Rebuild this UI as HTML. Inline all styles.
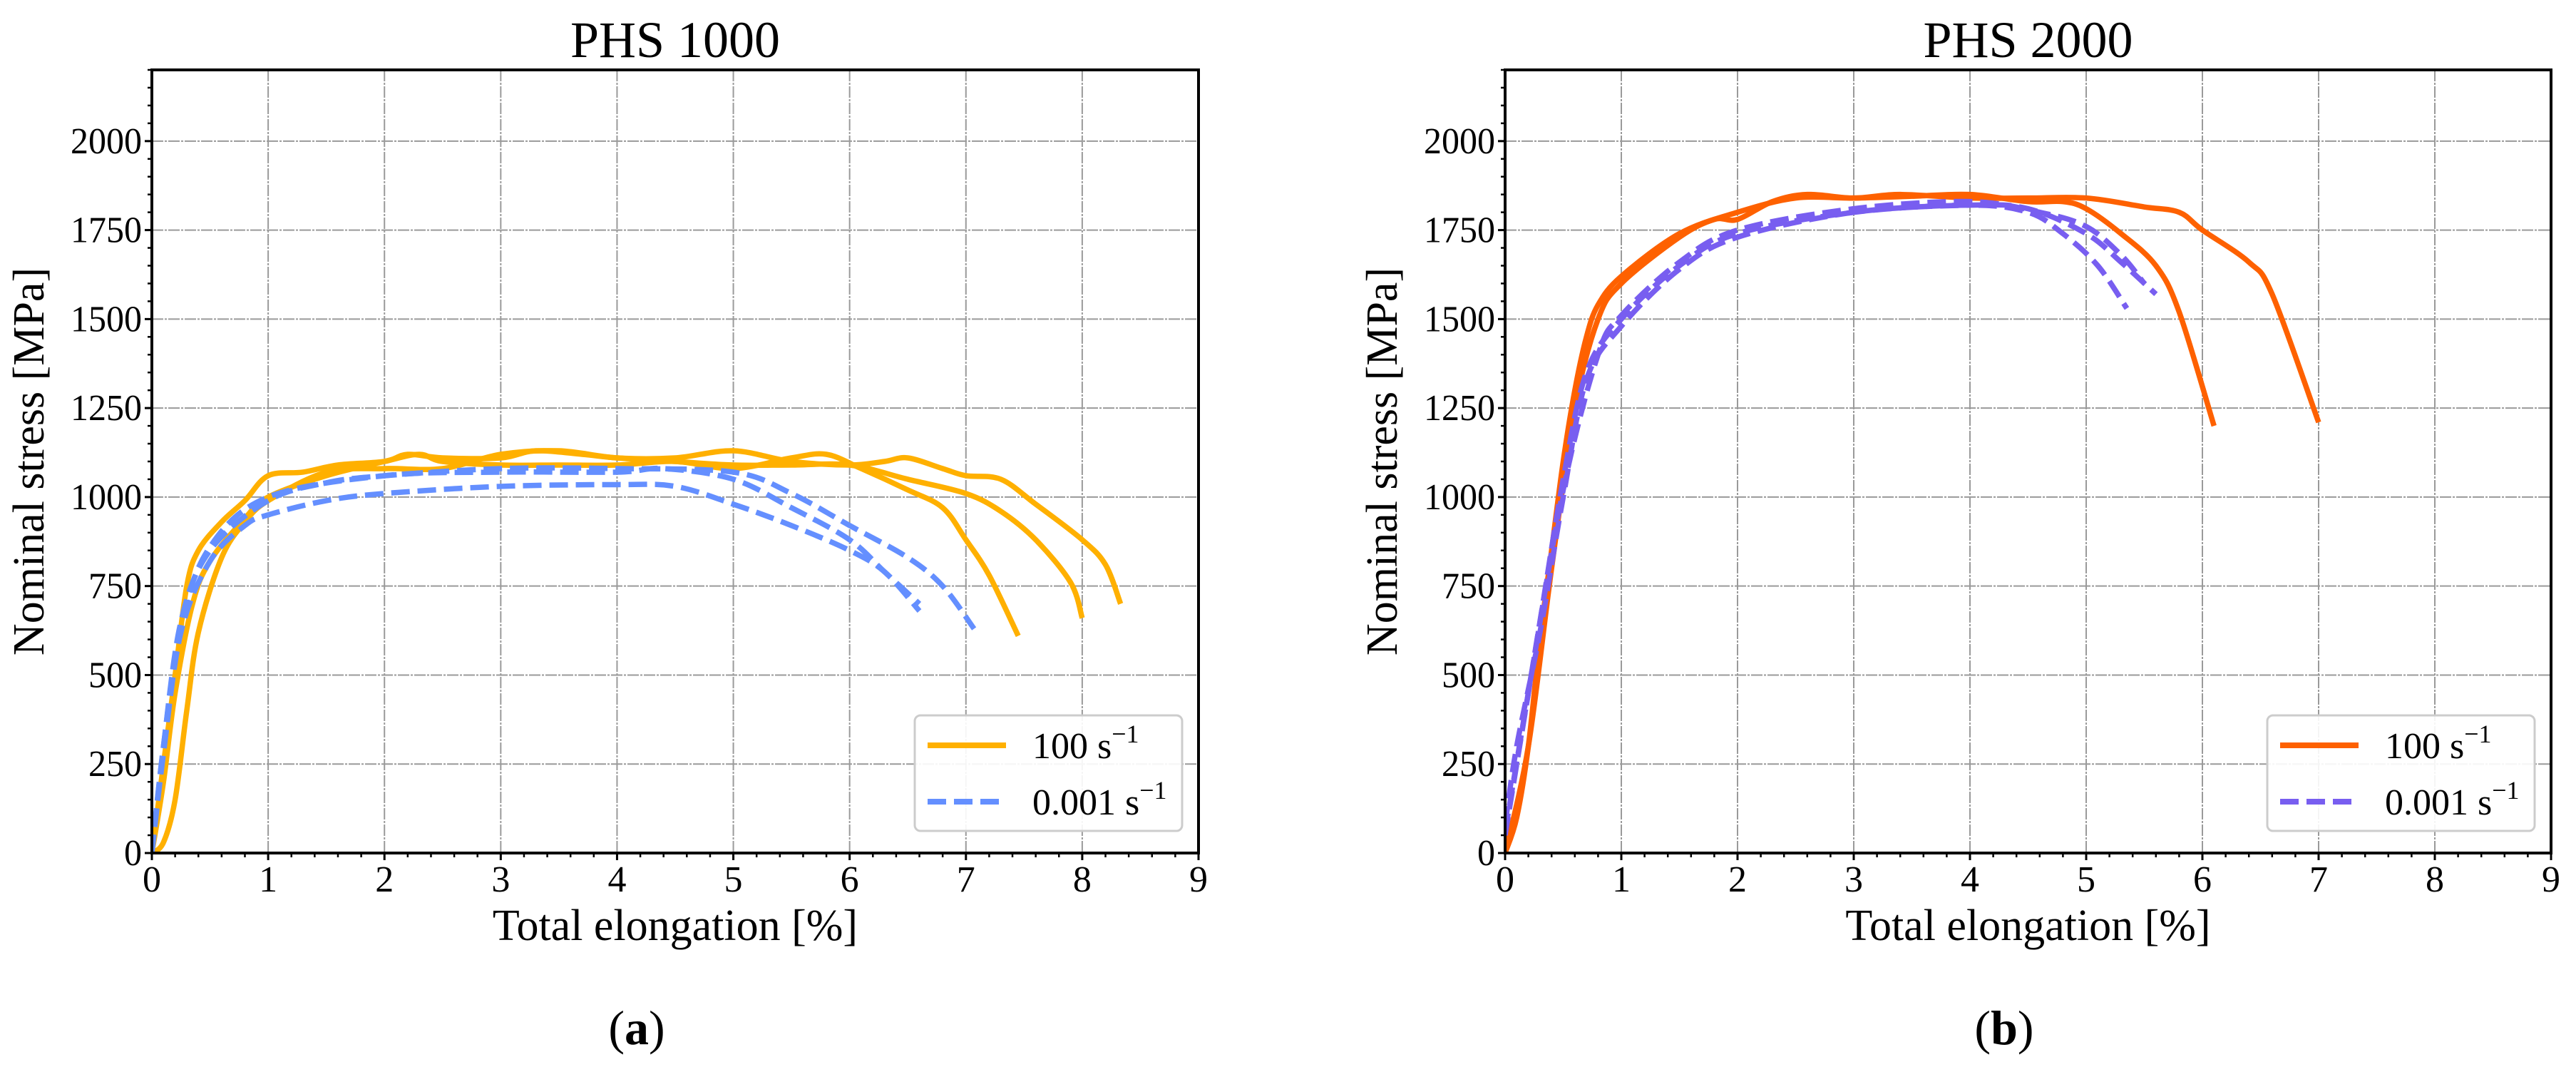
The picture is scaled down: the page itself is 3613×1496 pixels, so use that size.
<!DOCTYPE html>
<html>
<head>
<meta charset="utf-8">
<style>
html,body{margin:0;padding:0;background:#fff;}
svg{display:block;font-family:"Liberation Serif",serif;}
</style>
</head>
<body>
<svg id="fig" width="3613" height="1496" viewBox="0 0 3613 1496" xmlns="http://www.w3.org/2000/svg">
<rect x="0" y="0" width="3613" height="1496" fill="#fff"/>
</svg>
<script>
// ---- data (panel a: PHS 1000) ----
const xTicks = [0,1,2,3,4,5,6,7,8,9];
const yTicks = [0,250,500,750,1000,1250,1500,1750,2000];
const a_fast1_x = [0,0.1,0.2,0.3,0.4,0.6,0.8,1.0,1.3,1.6,2,2.2,2.5,3,3.3,3.7,4,4.5,5,5.5,6,6.5,7,7.3,7.6,7.9,8.0];
const a_fast1_y = [0,250,500,750,850,930,990,1060,1070,1090,1100,1120,1110,1110,1130,1120,1110,1100,1090,1090,1090,1050,1010,960,880,760,660];
const a_fast2_x = [0,0.1,0.2,0.3,0.4,0.6,0.8,1,1.5,2,2.5,3,3.5,4,4.5,5,5.5,6,6.3,6.5,6.8,7,7.3,7.6,8,8.2,8.33];
const a_fast2_y = [0,30,150,400,620,830,930,990,1070,1080,1080,1120,1130,1110,1110,1130,1100,1090,1100,1110,1080,1060,1050,980,880,810,700];
const a_fast3_x = [0,0.1,0.2,0.35,0.5,0.8,1,1.5,2,2.3,2.5,3,3.5,4,4.5,5,5.5,5.8,6.1,6.5,6.8,7.0,7.2,7.45];
const a_fast3_y = [0,200,450,700,820,940,1000,1060,1100,1120,1100,1090,1090,1090,1100,1080,1110,1120,1080,1020,970,880,780,610];
const a_slow1_x = [0,0.1,0.25,0.5,1,1.5,2,3,4,5,5.5,6,6.5,6.8,7.07];
const a_slow1_y = [0,300,650,850,990,1040,1060,1080,1080,1070,1010,920,830,750,630];
const a_slow2_x = [0,0.1,0.25,0.5,0.8,1,1.5,2,3,4,4.5,5,5.5,6,6.3,6.6];
const a_slow2_y = [0,280,620,820,920,950,990,1010,1030,1035,1030,980,920,850,790,680];
const a_slow3_x = [0,0.1,0.25,0.5,1,2,3,4,4.4,5,5.5,6,6.3,6.6];
const a_slow3_y = [0,300,640,860,1000,1060,1070,1070,1080,1050,970,880,790,700];
// ---- data (panel b: PHS 2000) ----
const b_fast1_x = [0,0.1,0.2,0.3,0.4,0.5,0.6,0.7,0.8,1,1.5,2,2.5,3,3.5,4,4.5,4.8,5,5.3,5.6,5.8,6.1];
const b_fast1_y = [0,100,300,600,850,1100,1300,1450,1540,1620,1740,1800,1840,1840,1845,1850,1830,1830,1810,1740,1650,1520,1200];
const b_fast2_x = [0,0.2,0.4,0.6,0.8,1,1.5,1.8,2,2.3,2.6,3,3.4,4,4.5,5,5.5,5.8,6,6.4,6.6,7];
const b_fast2_y = [0,300,800,1250,1500,1600,1730,1780,1780,1830,1850,1840,1850,1840,1840,1840,1815,1800,1750,1660,1570,1210];
const b_slow1_x = [0,0.1,0.3,0.5,0.7,1,1.5,2,3,4,4.5,4.8,5.1,5.35];
const b_slow1_y = [50,250,650,1050,1350,1500,1650,1740,1800,1820,1800,1740,1650,1530];
const b_slow2_x = [0,0.1,0.3,0.5,0.7,1,1.5,2,3,4,4.5,5,5.3,5.6];
const b_slow2_y = [80,300,620,1000,1330,1480,1640,1730,1800,1820,1810,1740,1660,1570];
const b_slow3_x = [0,0.2,0.5,0.8,1,1.5,2,3,4,4.6,5,5.3,5.5];
const b_slow3_y = [60,450,1020,1400,1510,1660,1750,1810,1830,1800,1760,1680,1600];

const NS = "http://www.w3.org/2000/svg";
const svg = document.getElementById('fig');
function mk(tag, attrs, parent){
  const e = document.createElementNS(NS, tag);
  for (const k in attrs) e.setAttribute(k, attrs[k]);
  (parent||svg).appendChild(e);
  return e;
}
const Y0 = 1196, Y1 = 98, XMAX = 9, YMAX = 2200;

function panel(p){
  const g = mk('g', {});
  
  
  const sx = v => p.left + (v / XMAX) * (p.right - p.left);
  const sy = v => Y0 - (v / YMAX) * (Y0 - Y1);
  xTicks.forEach(t => {
    const l = mk('line', {x1:sx(t), x2:sx(t), y1:Y1, y2:Y0, stroke:'#9a9a9a', 'stroke-width':2, 'stroke-dasharray':'16,2,3,2'}, g);
    
    
  });
  yTicks.forEach(t => {
    const l = mk('line', {x1:p.left, x2:p.right, y1:sy(t), y2:sy(t), stroke:'#9a9a9a', 'stroke-width':2, 'stroke-dasharray':'16,2,3,2'}, g);
    
    
  });
  const clip = 'clip-' + p.name;
  const cp = mk('clipPath', {id:clip}, g);
  mk('rect', {x:p.left, y:Y1, width:p.right-p.left, height:Y0-Y1}, cp);
  p.series.forEach(s => {
    const pts = s.x.map((v,i) => [sx(v), sy(s.y[i])]);
    let d = 'M' + pts[0][0] + ',' + pts[0][1];
    for (let i = 0; i < pts.length - 1; i++) {
      const p0 = pts[Math.max(0,i-1)], p1 = pts[i], p2 = pts[i+1], p3 = pts[Math.min(pts.length-1,i+2)];
      const c1x = p1[0] + (p2[0]-p0[0])/6, c1y = p1[1] + (p2[1]-p0[1])/6;
      const c2x = p2[0] - (p3[0]-p1[0])/6, c2y = p2[1] - (p3[1]-p1[1])/6;
      d += ' C' + c1x + ',' + c1y + ' ' + c2x + ',' + c2y + ' ' + p2[0] + ',' + p2[1];
    }
    const path = mk('path', {d:d, fill:'none', stroke:s.color, 'stroke-width':7.5, 'stroke-linejoin':'round', 'clip-path':'url(#'+clip+')'}, g);
    if (s.dash) path.setAttribute('stroke-dasharray', '26,11');
    
    
  });
  const fr = mk('rect', {x:p.left, y:Y1, width:p.right-p.left, height:Y0-Y1, fill:'none', stroke:'#000', 'stroke-width':4}, g);
  
  
  for (let v = 0; v <= XMAX + 1e-9; v += 0.2) {
    mk('line', {x1:sx(v), x2:sx(v), y1:Y0, y2:Y0+6, stroke:'#000', 'stroke-width':2.5}, g);
  }
  for (let v = 0; v <= YMAX + 1e-9; v += 50) {
    mk('line', {x1:p.left-6, x2:p.left, y1:sy(v), y2:sy(v), stroke:'#000', 'stroke-width':2.5}, g);
  }
  xTicks.forEach(t => {
    mk('line', {x1:sx(t), x2:sx(t), y1:Y0, y2:Y0+10, stroke:'#000', 'stroke-width':3}, g);
    const tx = mk('text', {x:sx(t), y:Y0+54, 'font-size':52, 'text-anchor':'middle', fill:'#000'}, g);
    tx.textContent = t;
    
    
  });
  yTicks.forEach(t => {
    mk('line', {x1:p.left-10, x2:p.left, y1:sy(t), y2:sy(t), stroke:'#000', 'stroke-width':3}, g);
    const tx = mk('text', {x:p.left-14, y:sy(t)+17, 'font-size':52, 'text-anchor':'end', fill:'#000', textLength: (String(t).length*25), lengthAdjust:'spacingAndGlyphs'}, g);
    tx.textContent = t;
    
    
  });
  const cx = (p.left + p.right) / 2;
  const ti = mk('text', {x:cx, y:80, 'font-size':72, 'text-anchor':'middle', fill:'#000'}, g);
  ti.textContent = p.title;
  
  
  const xl = mk('text', {x:cx, y:1318, 'font-size':62, 'text-anchor':'middle', fill:'#000'}, g);
  xl.textContent = 'Total elongation [%]';
  
  
  const yc = (Y0 + Y1) / 2;
  const yl = mk('text', {x:0, y:0, 'font-size':62, 'text-anchor':'middle', fill:'#000', transform:'translate('+(p.left-152)+','+yc+') rotate(-90)'}, g);
  yl.textContent = 'Nominal stress [MPa]';
  
  
  const lg = mk('g', {}, g);
  
  
  const lx = p.right - 398, ly = 1003;
  mk('rect', {x:lx, y:ly, width:375, height:162, rx:8, fill:'#fff', 'fill-opacity':0.9, stroke:'#ccc', 'stroke-width':3}, lg);
  const rows = [{c:p.series[0].color, dash:false, t:'100 s', y:ly+42},{c:p.series[p.series.length-1].color, dash:true, t:'0.001 s', y:ly+121}];
  rows.forEach(r => {
    const ln = mk('line', {x1:lx+18, x2:lx+128, y1:r.y, y2:r.y, stroke:r.c, 'stroke-width':8}, lg);
    if (r.dash) ln.setAttribute('stroke-dasharray','26,11');
    
    
    const tx = mk('text', {x:lx+165, y:r.y+18, 'font-size':52, fill:'#000'}, lg);
    tx.textContent = r.t;
    const sp = mk('tspan', {dy:-22, 'font-size':36}, tx);
    sp.textContent = '\u22121';
    
    
  });
  const cap = mk('text', {x:p.capX, y:1464, 'font-size':68, 'text-anchor':'middle', fill:'#000'}, g);
  const t1 = mk('tspan', {}, cap); t1.textContent = '(';
  const t2 = mk('tspan', {'font-weight':'bold'}, cap); t2.textContent = p.cap;
  const t3 = mk('tspan', {}, cap); t3.textContent = ')';
  
  
}

const OR1 = '#FFB000', BL1 = '#648FFF', OR2 = '#FE6100', PU2 = '#785EF0';
panel({name:'panel-phs-1000', title:'PHS 1000', left:213, right:1681, capX:893, cap:'a', series:[
  {name:'line-fast-1', x:a_fast1_x, y:a_fast1_y, color:OR1},
  {name:'line-fast-2', x:a_fast2_x, y:a_fast2_y, color:OR1},
  {name:'line-fast-3', x:a_fast3_x, y:a_fast3_y, color:OR1},
  {name:'line-slow-1', x:a_slow1_x, y:a_slow1_y, color:BL1, dash:true},
  {name:'line-slow-2', x:a_slow2_x, y:a_slow2_y, color:BL1, dash:true},
  {name:'line-slow-3', x:a_slow3_x, y:a_slow3_y, color:BL1, dash:true}
]});
panel({name:'panel-phs-2000', title:'PHS 2000', left:2111, right:3578, capX:2811, cap:'b', series:[
  {name:'line-fast-1', x:b_fast1_x, y:b_fast1_y, color:OR2},
  {name:'line-fast-2', x:b_fast2_x, y:b_fast2_y, color:OR2},
  {name:'line-slow-1', x:b_slow1_x, y:b_slow1_y, color:PU2, dash:true},
  {name:'line-slow-2', x:b_slow2_x, y:b_slow2_y, color:PU2, dash:true},
  {name:'line-slow-3', x:b_slow3_x, y:b_slow3_y, color:PU2, dash:true}
]});
</script>
</body>
</html>
